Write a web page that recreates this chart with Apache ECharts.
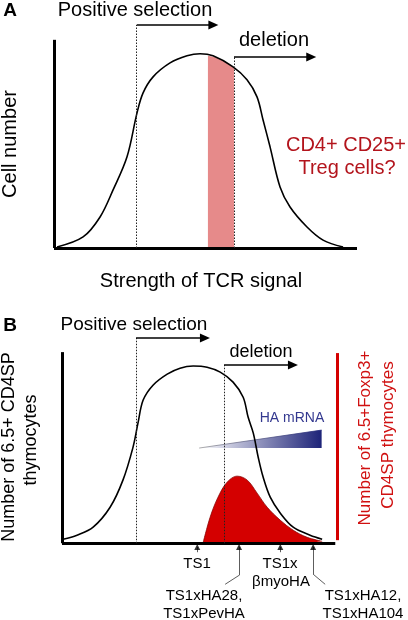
<!DOCTYPE html>
<html>
<head>
<meta charset="utf-8">
<script src="https://cdn.jsdelivr.net/npm/echarts@6/dist/echarts.min.js"></script>
<style>
html,body{margin:0;padding:0;background:#fff;}
#c{width:408px;height:620px;}
</style>
</head>
<body>
<div id="c"></div>
<script>
// ---------- Panel A data (x: TCR signal strength 0-100, y: cell number 0-100) ----------
const curveA = [[1.0,0.5],[9.6,5.3],[15.2,14.9],[19.5,27.9],[24.1,43.8],[27.4,64.9],[29.4,74.5],[32.7,82.2],[38.3,88.9],[43.9,92.3],[48.2,93.3],[52.5,92.3],[59.1,87.0],[63.7,80.8],[67.0,72.6],[69.0,61.5],[71.3,48.6],[74.6,29.3],[77.9,19.7],[83.5,10.1],[88.8,3.8],[95.4,0.5]];
const tregBandA = [[50.8,92.4],[53.5,91.6],[56.5,89.6],[59.4,86.8]];
const posSelA = {x: 27.3, y: 107.1, end: 52.6};
const deletionA = {x: 59.4, y: 91.7, end: 84.9};

// ---------- Panel B data ----------
const curveB = [[0.4,2.1],[5.5,4.2],[11.4,8.4],[17.6,18.8],[22.3,33.0],[26.0,50.3],[27.8,62.8],[29.7,74.9],[33.3,82.7],[38.5,88.5],[43.2,91.6],[48.0,92.7],[53.1,92.1],[57.9,89.5],[62.6,84.3],[66.3,76.4],[68.1,66.0],[70.0,57.6],[71.8,45.0],[73.6,34.6],[76.2,24.1],[79.9,15.7],[84.6,8.4],[90.8,4.2],[95.2,2.1]];
const foxp3B = [[51.6,0],[54.2,13.6],[57.1,24.1],[60.4,31.9],[64.1,35.1],[67.8,33.0],[71.4,26.2],[75.1,18.8],[79.9,12.0],[84.6,6.8],[89.7,3.1],[95.2,1.0]];
const haMRNA = [[50.2,49.8],[95.0,59.2]];
const haBase = 49.8;
const posSelB = {x: 27.1, y: 107.4, end: 52.3};
const deletionB = {x: 59.3, y: 93.2, end: 84.5};
const strainNames = ['TS1', 'TS1xHA28, TS1xPevHA', 'TS1x βmyoHA', 'TS1xHA12, TS1xHA104'];
const strainX = [49.5, 64.8, 79.9, 91.9];
const leaderB = [null, [[64.8,-16.8],[59.7,-21.5]], null, [[91.9,-16.2],[96.3,-21.5]]];

const FONT = '"Liberation Sans", Arial, Helvetica, sans-serif';
const chart = echarts.init(document.getElementById('c'), null, {renderer: 'canvas'});

function seg(p1, p2, style, arrow) {
  return [
    {coord: p1, symbol: 'none', lineStyle: style},
    {coord: p2, symbol: arrow ? 'triangle' : 'none', symbolSize: [9, 10], itemStyle: {color: style.color}, lineStyle: style}
  ];
}
const axisStyle = {color: '#000', width: 3, type: 'solid'};
const dotStyle = {color: '#222', width: 1, type: [1.5, 1.5]};
const arrowStyle = {color: '#000', width: 1.7, type: 'solid'};
const thinStyle = {color: '#333', width: 0.8, type: 'solid'};

const markA = [
  seg([0,0],[0,100], axisStyle),
  seg([0,0],[100,0], axisStyle),
  seg([posSelA.x,0],[posSelA.x,posSelA.y], dotStyle),
  seg([posSelA.x,posSelA.y],[posSelA.end,posSelA.y], arrowStyle, true),
  seg([deletionA.x,0],[deletionA.x,deletionA.y], dotStyle),
  seg([deletionA.x,deletionA.y],[deletionA.end,deletionA.y], arrowStyle, true)
];
const markB = [
  seg([0,0],[0,100], axisStyle),
  seg([0,0],[100,0], axisStyle),
  seg([100.7,1.6],[100.7,99.5], {color:'#d40000', width:3, type:'solid'}),
  seg([posSelB.x,0],[posSelB.x,posSelB.y], dotStyle),
  seg([posSelB.x,posSelB.y],[posSelB.end,posSelB.y], arrowStyle, true),
  seg([deletionB.x,0],[deletionB.x,deletionB.y], dotStyle),
  seg([deletionB.x,deletionB.y],[deletionB.end,deletionB.y], arrowStyle, true)
];
const markTicks = [];
strainX.forEach((x, i) => {
  const lead = leaderB[i];
  if (lead) {
    markTicks.push(seg([x,-2],lead[0], thinStyle));
    markTicks.push(seg(lead[0],lead[1], thinStyle));
  } else {
    markTicks.push(seg([x,-2],[x,-4.7], thinStyle));
  }
});

function markLine(data, z) {
  return {silent: true, animation: false, symbol: ['none','none'], label: {show: false}, emphasis: {disabled: true}, data: data, z: z || 5};
}

function txt(text, x, y, size, opts) {
  opts = opts || {};
  return {
    type: 'text', x: x, y: y, rotation: opts.rot || 0, silent: true, z: 10,
    style: {text: text, fill: opts.color || '#000', align: 'center', verticalAlign: 'middle',
      font: (opts.bold ? 'bold ' : '') + size + 'px ' + FONT}
  };
}

const option = {
  animation: false,
  grid: [
    {left: 54, top: 19, width: 303, height: 229},
    {left: 62, top: 333, width: 276, height: 258}
  ],
  xAxis: [
    {type: 'value', gridIndex: 0, min: 0, max: 100, show: false},
    {type: 'value', gridIndex: 1, min: 0, max: 101, show: false}
  ],
  yAxis: [
    {type: 'value', gridIndex: 0, min: 0, max: 110, show: false},
    {type: 'value', gridIndex: 1, min: -25, max: 110, show: false}
  ],
  series: [
    {
      name: 'Treg window', type: 'line', xAxisIndex: 0, yAxisIndex: 0, data: tregBandA,
      showSymbol: false, symbol: 'none', lineStyle: {width: 0}, areaStyle: {color: '#e68a8a', opacity: 1}, z: 1, silent: true
    },
    {
      name: 'Cell number', type: 'line', xAxisIndex: 0, yAxisIndex: 0, data: curveA, smooth: 0.35,
      showSymbol: false, symbol: 'none', lineStyle: {color: '#000', width: 1.6}, z: 3, silent: true, clip: false,
      markLine: markLine(markA)
    },
    {
      name: 'HA mRNA', type: 'line', xAxisIndex: 1, yAxisIndex: 1, data: haMRNA,
      showSymbol: false, symbol: 'none',
      lineStyle: {width: 0.8, color: new echarts.graphic.LinearGradient(0,0,1,0,[{offset:0,color:'#999'},{offset:1,color:'#1d2378'}])},
      areaStyle: {origin: haBase, opacity: 1, color: new echarts.graphic.LinearGradient(0,0,1,0,[{offset:0,color:'#ffffff'},{offset:1,color:'#1d2378'}])},
      z: 1, silent: true
    },
    {
      name: 'Foxp3+', type: 'line', xAxisIndex: 1, yAxisIndex: 1, data: foxp3B, smooth: 0.35,
      showSymbol: false, symbol: 'none', lineStyle: {color: '#8a0000', width: 0.8}, areaStyle: {color: '#d40000', opacity: 1}, z: 2, silent: true
    },
    {
      name: '6.5+ CD4SP', type: 'line', xAxisIndex: 1, yAxisIndex: 1, data: curveB, smooth: 0.35,
      showSymbol: false, symbol: 'none', lineStyle: {color: '#000', width: 1.6}, z: 3, silent: true, clip: false,
      markLine: markLine(markB)
    },
    {
      name: 'Strains', type: 'scatter', xAxisIndex: 1, yAxisIndex: 1,
      data: strainX.map(x => [x, -2.0]), symbol: 'triangle', symbolSize: [6, 6],
      itemStyle: {color: '#000'}, z: 6, silent: true, clip: false,
      markLine: markLine(markTicks)
    }
  ],
  graphic: [
    txt('A', 10, 11, 19, {bold: true}),
    txt('Positive selection', 135, 10, 20),
    txt('deletion', 274, 40, 20),
    txt('CD4+ CD25+', 346, 145, 20, {color: '#b3141c'}),
    txt('Treg cells?', 347, 168, 20, {color: '#b3141c'}),
    txt('Cell number', 10, 144, 20, {rot: Math.PI / 2}),
    txt('Strength of TCR signal', 201, 281, 20),

    txt('B', 10, 326, 19, {bold: true}),
    txt('Positive selection', 134, 325, 19),
    txt('deletion', 261, 352, 18),
    txt('HA mRNA', 292, 418, 14, {color: '#33388f'}),
    txt('Number of 6.5+ CD4SP', 9, 447, 18, {rot: Math.PI / 2}),
    txt('thymocytes', 31, 440, 18, {rot: Math.PI / 2}),
    txt('Number of 6.5+Foxp3+', 365, 438, 17, {rot: Math.PI / 2, color: '#d01010'}),
    txt('CD4SP thymocytes', 388, 435, 17, {rot: Math.PI / 2, color: '#d01010'}),

    txt('TS1', 197, 564, 15),
    txt('TS1xHA28,', 204, 596, 15),
    txt('TS1xPevHA', 204, 614, 15),
    txt('TS1x', 280, 564, 15),
    txt('βmyoHA', 281, 582, 15),
    txt('TS1xHA12,', 363, 596, 15),
    txt('TS1xHA104', 363, 614, 15)
  ]
};
chart.setOption(option);
</script>
</body>
</html>
